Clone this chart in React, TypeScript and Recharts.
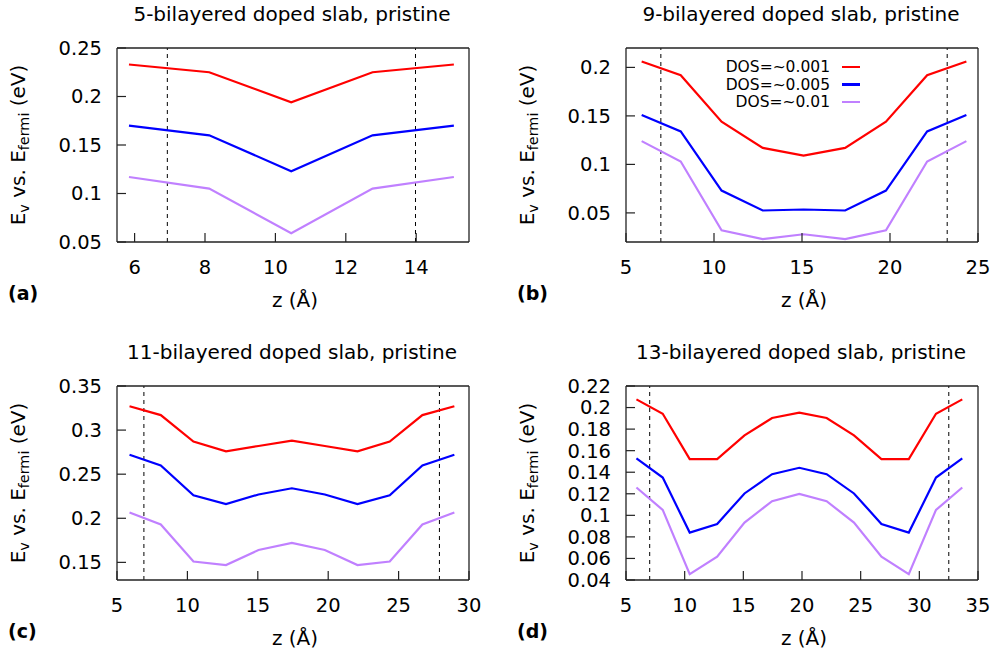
import React from 'react';
import { LineChart, Line, XAxis, YAxis, ReferenceLine, Legend } from 'recharts';

// ---- Panel (a): 5-bilayered ----
const zA = [5.84, 8.12, 10.45, 12.76, 15.07];
const redA = [0.233, 0.225, 0.194, 0.225, 0.233];
const blueA = [0.170, 0.160, 0.123, 0.160, 0.170];
const purpleA = [0.117, 0.105, 0.059, 0.105, 0.117];
const vlinesA = [6.93, 13.98];
const xTicksA = [6, 8, 10, 12, 14];
const yTicksA = [0.05, 0.1, 0.15, 0.2, 0.25];

// ---- Panel (b): 9-bilayered ----
const zB = [5.89, 8.11, 10.43, 12.77, 15.09, 17.45, 19.77, 22.11, 24.34];
const redB = [0.206, 0.192, 0.144, 0.117, 0.109, 0.117, 0.144, 0.192, 0.206];
const blueB = [0.151, 0.134, 0.073, 0.0525, 0.0535, 0.0525, 0.073, 0.134, 0.151];
const purpleB = [0.124, 0.103, 0.032, 0.023, 0.028, 0.023, 0.032, 0.103, 0.124];
const vlinesB = [6.98, 23.25];
const xTicksB = [5, 10, 15, 20, 25];
const yTicksB = [0.05, 0.1, 0.15, 0.2];

// ---- Panel (c): 11-bilayered ----
const zC = [5.89, 8.11, 10.43, 12.74, 15.05, 17.42, 19.76, 22.08, 24.37, 26.69, 28.96];
const redC = [0.327, 0.317, 0.287, 0.276, 0.282, 0.288, 0.282, 0.276, 0.287, 0.317, 0.327];
const blueC = [0.272, 0.260, 0.226, 0.216, 0.227, 0.234, 0.227, 0.216, 0.226, 0.260, 0.272];
const purpleC = [0.2065, 0.193, 0.151, 0.147, 0.164, 0.172, 0.164, 0.147, 0.151, 0.193, 0.2065];
const vlinesC = [6.91, 27.9];
const xTicksC = [5, 10, 15, 20, 25, 30];
const yTicksC = [0.15, 0.2, 0.25, 0.3, 0.35];

// ---- Panel (d): 13-bilayered ----
const zD = [5.89, 8.13, 10.43, 12.77, 15.1, 17.45, 19.77, 22.1, 24.43, 26.77, 29.1, 31.42, 33.66];
const redD = [0.2076, 0.1943, 0.1522, 0.1522, 0.1742, 0.1903, 0.1952, 0.1903, 0.1742, 0.1522, 0.1522, 0.1943, 0.2076];
const blueD = [0.1528, 0.1351, 0.084, 0.092, 0.1203, 0.1382, 0.1441, 0.1382, 0.1203, 0.092, 0.084, 0.1351, 0.1528];
const purpleD = [0.1258, 0.105, 0.0455, 0.0617, 0.0933, 0.1131, 0.1199, 0.1131, 0.0933, 0.0617, 0.0455, 0.105, 0.1258];
const vlinesD = [7.02, 32.51];
const xTicksD = [5, 10, 15, 20, 25, 30, 35];
const yTicksD = [0.04, 0.06, 0.08, 0.1, 0.12, 0.14, 0.16, 0.18, 0.2, 0.22];

const seriesNames = ['DOS=~0.001', 'DOS=~0.005', 'DOS=~0.01'];
const seriesColors = ['#ff0000', '#0000ff', '#c080ff'];

const FONT = '"DejaVu Sans", Verdana, sans-serif';
const PW = 352; // plot width
const PH = 194; // plot height
const LEFT = 100;
const TOP = 20;
const BOTTOM = 60;
const RIGHT = 20;
const TS = 9; // tick length (inward)
const FRAME = '#222';

const fmt = (v: number) => String(Number(v.toFixed(4)));

type PanelProps = {
  z: number[];
  red: number[];
  blue: number[];
  purple: number[];
  xDomain: [number, number];
  yDomain: [number, number];
  xTicks: number[];
  yTicks: number[];
  vlines: number[];
  pl: number;
  pt: number;
  title: string;
  tag: string;
  legend?: boolean;
};

const LegendContent = () => (
  <div style={{ fontFamily: FONT, fontSize: 15.5, color: '#000' }}>
    {seriesNames.map((n, i) => (
      <div
        key={n}
        style={{ display: 'flex', justifyContent: 'flex-end', alignItems: 'center', height: 17.7 }}
      >
        <span style={{ whiteSpace: 'nowrap' }}>{n}</span>
        <span
          style={{ display: 'inline-block', width: 18.5, height: 2.5, marginLeft: 11.5, background: seriesColors[i] }}
        />
      </div>
    ))}
  </div>
);

const Panel = (p: PanelProps) => {
  const data = p.z.map((z, i) => ({ z, r: p.red[i], b: p.blue[i], p: p.purple[i] }));
  const tickStyle = { fontFamily: FONT, fontSize: 19.5, fill: '#000' };
  const axisLine = { stroke: FRAME, strokeWidth: 1.3 };
  const tickLine = { stroke: FRAME, strokeWidth: 1.2 };
  return (
    <>
      <div style={{ position: 'absolute', left: p.pl - LEFT, top: p.pt - TOP }}>
        <LineChart
          width={LEFT + PW + RIGHT}
          height={TOP + PH + BOTTOM}
          data={data}
          margin={{ top: TOP - 1, right: RIGHT - 1, bottom: 0, left: 0 }}
        >
          <XAxis
            xAxisId={0}
            dataKey="z"
            type="number"
            domain={p.xDomain}
            ticks={p.xTicks}
            interval={0}
            height={BOTTOM}
            tickSize={-TS}
            tickMargin={TS + 18}
            tickFormatter={fmt}
            tick={tickStyle}
            axisLine={axisLine}
            tickLine={tickLine}
            allowDataOverflow
          />
          <XAxis
            xAxisId="top"
            orientation="top"
            dataKey="z"
            type="number"
            domain={p.xDomain}
            ticks={p.xTicks}
            interval={0}
            height={1}
            tickSize={-TS}
            tick={false}
            axisLine={axisLine}
            tickLine={tickLine}
            allowDataOverflow
          />
          <YAxis
            yAxisId={0}
            type="number"
            domain={p.yDomain}
            ticks={p.yTicks}
            interval={0}
            width={LEFT}
            tickSize={-TS}
            tickMargin={TS + 15}
            tickFormatter={fmt}
            tick={tickStyle}
            axisLine={axisLine}
            tickLine={tickLine}
            allowDataOverflow
          />
          <YAxis
            yAxisId="right"
            orientation="right"
            type="number"
            domain={p.yDomain}
            ticks={p.yTicks}
            interval={0}
            width={1}
            tickSize={-TS}
            tick={false}
            axisLine={axisLine}
            tickLine={tickLine}
            allowDataOverflow
          />
          {p.vlines.map((v) => (
            <ReferenceLine key={v} x={v} xAxisId={0} yAxisId={0} stroke="#000" strokeWidth={1} strokeDasharray="4 4" />
          ))}
          <Line xAxisId={0} yAxisId={0} dataKey="r" name={seriesNames[0]} stroke={seriesColors[0]} strokeWidth={2.2} dot={false} isAnimationActive={false} />
          <Line xAxisId={0} yAxisId={0} dataKey="b" name={seriesNames[1]} stroke={seriesColors[1]} strokeWidth={2.2} dot={false} isAnimationActive={false} />
          <Line xAxisId={0} yAxisId={0} dataKey="p" name={seriesNames[2]} stroke={seriesColors[2]} strokeWidth={2.2} dot={false} isAnimationActive={false} />
          {p.legend && (
            <Legend
              layout="vertical"
              align="center"
              verticalAlign="middle"
              content={LegendContent}
              wrapperStyle={{ left: 134, top: 30, width: 200, margin: 0, padding: 0 }}
            />
          )}
        </LineChart>
      </div>
      {/* title */}
      <div
        style={{
          position: 'absolute', left: p.pl + PW / 2 - 1, top: p.pt - 34, transform: 'translate(-50%,-50%)',
          fontFamily: FONT, fontSize: 20, lineHeight: 1, whiteSpace: 'nowrap', color: '#000',
        }}
      >
        {p.title}
      </div>
      {/* x label */}
      <div
        style={{
          position: 'absolute', left: p.pl + PW / 2 + 2, top: p.pt + PH + 58, transform: 'translate(-50%,-50%)',
          fontFamily: FONT, fontSize: 20, lineHeight: 1, whiteSpace: 'nowrap', color: '#000',
        }}
      >
        z (Å)
      </div>
      {/* y label */}
      <div
        style={{
          position: 'absolute', left: p.pl - 97, top: p.pt + 97, transform: 'translate(-50%,-50%) rotate(-90deg)',
          fontFamily: FONT, fontSize: 20, lineHeight: 1, whiteSpace: 'nowrap', color: '#000',
        }}
      >
        E<span style={{ fontSize: '0.72em', verticalAlign: '-0.3em' }}>v</span> vs. E
        <span style={{ fontSize: '0.72em', verticalAlign: '-0.3em' }}>fermi</span> (eV)
      </div>
      {/* panel tag */}
      <div
        style={{
          position: 'absolute', left: p.pl - 109, top: p.pt + PH + 51, transform: 'translate(0,-50%)',
          fontFamily: FONT, fontSize: 19, fontWeight: 'bold', lineHeight: 1, whiteSpace: 'nowrap', color: '#000',
        }}
      >
        {p.tag}
      </div>
    </>
  );
};

export default function App() {
  return (
    <div style={{ position: 'absolute', left: 0, top: 0, width: 995, height: 654, background: '#fff', overflow: 'hidden' }}>
      <Panel z={zA} red={redA} blue={blueA} purple={purpleA} xDomain={[5.5, 15.5]} yDomain={[0.05, 0.25]}
        xTicks={xTicksA} yTicks={yTicksA} vlines={vlinesA} pl={117} pt={48}
        title="5-bilayered doped slab, pristine" tag="(a)" />
      <Panel z={zB} red={redB} blue={blueB} purple={purpleB} xDomain={[5, 25]} yDomain={[0.02, 0.22]}
        xTicks={xTicksB} yTicks={yTicksB} vlines={vlinesB} pl={626} pt={48}
        title="9-bilayered doped slab, pristine" tag="(b)" legend />
      <Panel z={zC} red={redC} blue={blueC} purple={purpleC} xDomain={[5, 30]} yDomain={[0.13, 0.35]}
        xTicks={xTicksC} yTicks={yTicksC} vlines={vlinesC} pl={117} pt={386}
        title="11-bilayered doped slab, pristine" tag="(c)" />
      <Panel z={zD} red={redD} blue={blueD} purple={purpleD} xDomain={[5, 35]} yDomain={[0.04, 0.22]}
        xTicks={xTicksD} yTicks={yTicksD} vlines={vlinesD} pl={626} pt={386}
        title="13-bilayered doped slab, pristine" tag="(d)" />
    </div>
  );
}
